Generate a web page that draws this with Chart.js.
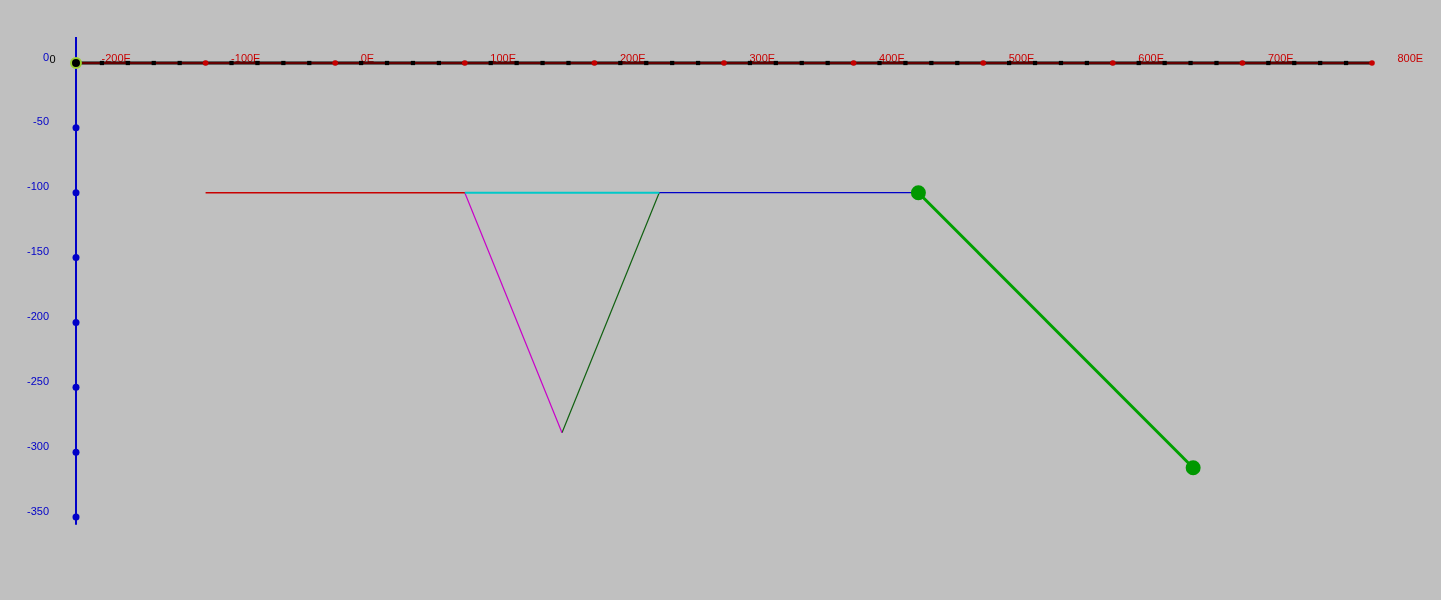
<!DOCTYPE html>
<html>
<head>
<meta charset="utf-8">
<script src="https://cdn.jsdelivr.net/npm/chart.js@4/dist/chart.umd.min.js"></script>
<style>
  html, body { margin: 0; padding: 0; background: #c0c0c0; overflow: hidden; }
  #c { display: block; }
</style>
</head>
<body>
<canvas id="c" width="1441" height="600"></canvas>
<script>
// ---- axis ranges & ticks ----
const xRange = [-200, 800];
const yRange = [-350, 0];
const xMajorStep = 100;
const xMinorStep = 20;
const yStep = 50;
const xTickSuffix = 'E';
const yAxisLineExtent = [20, -356];

// tick marker values
const xMinorTicks = [-180,-160,-140,-120,-100,-80,-60,-40,-20,0,20,40,60,80,100,120,140,160,180,200,220,240,260,280,300,320,340,360,380,400,420,440,460,480,500,520,540,560,580,600,620,640,660,680,700,720,740,760,780];
const xMajorTicks = [-100, 0, 100, 200, 300, 400, 500, 600, 700, 800];
const yMajorTicks = [-50, -100, -150, -200, -250, -300, -350];

// ---- data segments ----
const redSeg     = [[-100, -100], [100, -100]];
const cyanSeg    = [[100, -100], [250, -100]];
const magentaSeg = [[100, -100], [175, -285]];
const dkGreenSeg = [[175, -285], [250, -100]];
const blueSeg    = [[250, -100], [450, -100]];
const greenSeg   = [[450, -100], [662, -312]];
const origin     = [[-200, 0]];

const pts = a => a.map(p => ({ x: p[0], y: p[1] }));

function lineDs(data, color, width, extra) {
  return Object.assign({
    data: pts(data), showLine: true, borderColor: color, backgroundColor: color,
    borderWidth: width, pointRadius: 0, pointHoverRadius: 0, clip: false, tension: 0
  }, extra || {});
}

const datasets = [
  // origin marker
  Object.assign(lineDs(origin, '#000000', 0), {
    showLine: false, pointRadius: 5, pointBorderWidth: 2,
    pointBackgroundColor: '#000000', pointBorderColor: '#9acd32', order: 0
  }),
  // green thick segment with dots
  lineDs(greenSeg, '#00a000', 3, { pointRadius: 6, pointBackgroundColor: '#009800', pointBorderColor: '#009800', order: 1 }),
  lineDs(redSeg, '#c80000', 1.5, { order: 2 }),
  lineDs(cyanSeg, '#00c8c8', 2, { order: 2 }),
  lineDs(magentaSeg, '#c800c8', 1.2, { order: 3 }),
  lineDs(dkGreenSeg, '#106010', 1.2, { order: 3 }),
  lineDs(blueSeg, '#0000c8', 1.3, { order: 2 }),
  // y-axis markers
  { data: yMajorTicks.map(v => ({ x: xRange[0], y: v })), showLine: false, pointRadius: 3.5,
    pointBackgroundColor: '#0000c8', pointBorderColor: '#0000c8', borderWidth: 0, clip: false, order: 4 },
  // y-axis line
  lineDs([[xRange[0], yAxisLineExtent[0]], [xRange[0], yAxisLineExtent[1]]], '#0000c8', 2, { order: 5 }),
  // x-axis major markers (red)
  { data: xMajorTicks.map(v => ({ x: v, y: 0 })), showLine: false, pointRadius: 2.8,
    pointBackgroundColor: '#c80000', pointBorderColor: '#c80000', borderWidth: 0, clip: false, order: 6 },
  // x-axis minor markers (black squares)
  { data: xMinorTicks.map(v => ({ x: v, y: 0 })), showLine: false, pointRadius: 3, pointStyle: 'rect',
    pointBackgroundColor: '#000000', pointBorderColor: '#000000', borderWidth: 0, clip: false, order: 7 },
  // x-axis red line over black line
  lineDs([[xRange[0], 0], [xRange[1], 0]], '#c80000', 1.2, { order: 8 }),
  lineDs([[xRange[0], 0], [xRange[1], 0]], '#000000', 3, { order: 9 })
];

const originLabel = {
  id: 'originLabel',
  afterDraw(chart) {
    const ctx = chart.ctx;
    const yp = chart.scales.y.getPixelForValue(0);
    ctx.save();
    ctx.font = '11px "Liberation Sans", Arial, sans-serif';
    ctx.fillStyle = '#000000';
    ctx.textAlign = 'left';
    ctx.textBaseline = 'middle';
    ctx.fillText('0', 49.5, yp - 3.5);
    ctx.restore();
  }
};

new Chart(document.getElementById('c'), {
  type: 'scatter',
  data: { datasets },
  plugins: [originLabel],
  options: {
    responsive: false,
    animation: false,
    devicePixelRatio: 1,
    layout: { padding: { left: 0, top: 0, right: 69, bottom: 83 } },
    plugins: { legend: { display: false }, tooltip: { enabled: false } },
    events: [],
    scales: {
      x: {
        type: 'linear', position: 'top', min: xRange[0], max: xRange[1],
        grid: { display: false, drawTicks: false },
        border: { display: false },
        afterFit: s => { s.height = 63; },
        ticks: {
          stepSize: xMajorStep, autoSkip: false, maxRotation: 0, minRotation: 0,
          align: 'start', labelOffset: 25.5, padding: -2.5,
          color: '#c80000', font: { family: '"Liberation Sans", Arial, sans-serif', size: 11 },
          callback: v => v + xTickSuffix
        }
      },
      y: {
        type: 'linear', position: 'left', min: yRange[0], max: yRange[1],
        grid: { display: false, drawTicks: false },
        border: { display: false },
        afterFit: s => { s.width = 76; },
        ticks: {
          stepSize: yStep, autoSkip: false, padding: 27, labelOffset: -5.5,
          color: '#0000c8', font: { family: '"Liberation Sans", Arial, sans-serif', size: 11 }
        }
      }
    }
  }
});
</script>
</body>
</html>
